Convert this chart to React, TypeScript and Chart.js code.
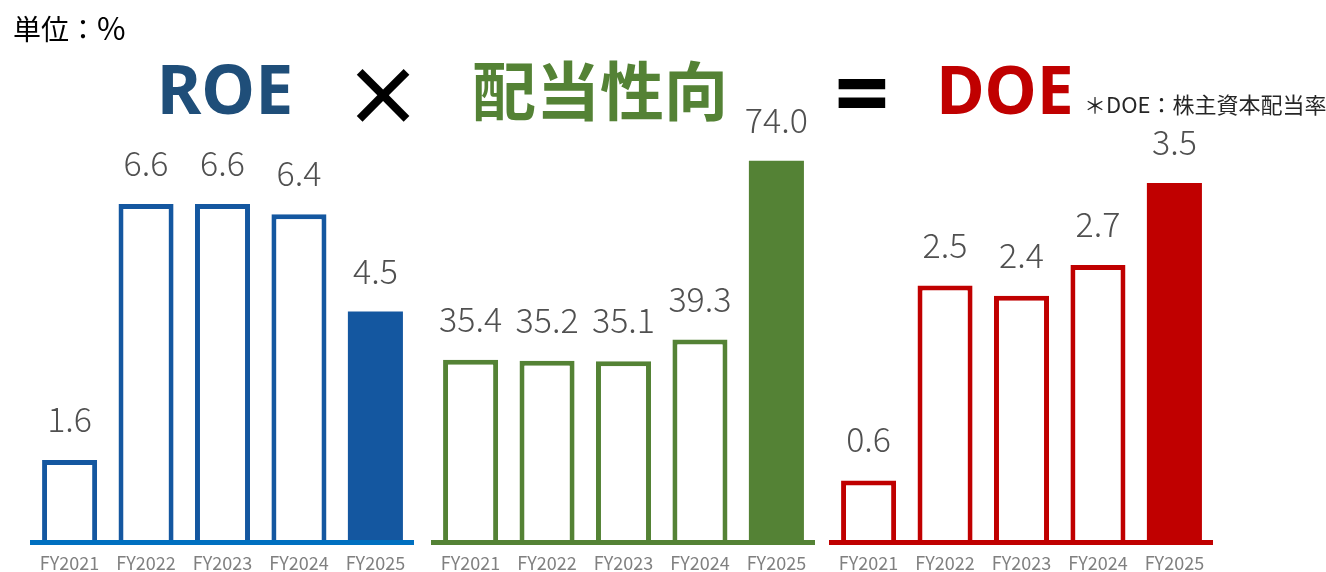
import { useEffect, useRef } from "react"
import Chart from "chart.js/auto"

const years = ["FY2021", "FY2022", "FY2023", "FY2024", "FY2025"]
const roeValues = [1.6, 6.6, 6.6, 6.4, 4.5]
const payoutValues = [35.4, 35.2, 35.1, 39.3, 74.0]
const doeValues = [0.6, 2.5, 2.4, 2.7, 3.5]

const FONT = "'Noto Sans CJK JP', 'Noto Sans', sans-serif"

interface PanelProps {
    values: number[]
    color: string
    axisColor: string
    yMax: number
    left: number
}

function BarPanel({ values, color, axisColor, yMax, left }: PanelProps) {
    const chartRef = useRef<HTMLCanvasElement>(null)

    useEffect(() => {
        if (!chartRef.current) return
        const ctx = chartRef.current.getContext("2d")
        if (!ctx) return

        const last = values.length - 1

        // value labels above each bar
        const valueLabels = {
            id: "valueLabels",
            afterDatasetsDraw(chart: Chart) {
                const c = chart.ctx
                const meta = chart.getDatasetMeta(0)
                c.save()
                c.font = `300 34px ${FONT}`
                c.fillStyle = "#505050"
                c.textAlign = "center"
                c.textBaseline = "alphabetic"
                meta.data.forEach((bar: any, i: number) => {
                    c.fillText(values[i].toFixed(1), bar.x, bar.y - 28)
                })
                c.restore()
            },
        }

        const chart = new Chart(ctx, {
            type: "bar",
            data: {
                labels: years,
                datasets: [
                    {
                        data: values,
                        // latest year is a solid bar, the rest are outlined
                        backgroundColor: values.map((_, i) => (i === last ? color : "#ffffff")),
                        borderColor: color,
                        borderWidth: values.map((_, i) => (i === last ? 0 : 5)),
                        borderSkipped: "bottom",
                        barPercentage: 0.72,
                        categoryPercentage: 1,
                    },
                ],
            },
            options: {
                animation: false,
                responsive: true,
                maintainAspectRatio: false,
                layout: { padding: { top: 100, left: 0, right: 0, bottom: 0 } },
                plugins: {
                    legend: { display: false },
                    tooltip: { enabled: false },
                },
                scales: {
                    x: {
                        grid: { display: false, drawTicks: false },
                        border: { color: axisColor, width: 5, z: 1 },
                        ticks: {
                            color: "#808080",
                            font: { family: FONT, size: 18 },
                            padding: 10,
                        },
                        afterFit: (scale: any) => {
                            scale.height = 30
                        },
                    },
                    y: { display: false, min: 0, max: yMax },
                },
            },
            plugins: [valueLabels],
        })

        return () => {
            chart.destroy()
        }
    }, [values, color, axisColor, yMax])

    return (
        <div style={{ position: "absolute", left, top: 0, width: 385, height: 572 }}>
            <canvas ref={chartRef} />
        </div>
    )
}

const centered = (x: number, y: number): React.CSSProperties => ({
    position: "absolute",
    left: x,
    top: y,
    transform: "translate(-50%, -50%)",
    lineHeight: 1,
    whiteSpace: "nowrap",
})

export default function App() {
    return (
        <div
            style={{
                position: "absolute",
                left: 0,
                top: 0,
                width: 1326,
                height: 572,
                background: "#ffffff",
                overflow: "hidden",
                fontFamily: FONT,
            }}
        >
            <BarPanel values={roeValues} color="#1457A0" axisColor="#0070C0" yMax={8.63} left={30} />
            <BarPanel values={payoutValues} color="#548235" axisColor="#548235" yMax={85.8} left={431} />
            <BarPanel values={doeValues} color="#C00000" axisColor="#C00000" yMax={4.31} left={829} />

            <div style={{ position: "absolute", left: 13, top: 11, fontSize: 28, lineHeight: 1, color: "#000" }}>
                単位：<span style={{ fontSize: 31 }}>%</span>
            </div>
            <div style={{ ...centered(225, 88), fontFamily: "'Noto Sans', sans-serif", fontWeight: 700, fontSize: 68, color: "#1F4E79" }}>
                ROE
            </div>
            <div style={{ ...centered(383, 90), fontWeight: 700, fontSize: 80, color: "#000" }}>×</div>
            <div style={{ ...centered(600, 87), fontWeight: 700, fontSize: 64, color: "#548235" }}>配当性向</div>
            <div style={{ ...centered(862, 91), fontFamily: "'Noto Sans', sans-serif", fontWeight: 700, fontSize: 96, color: "#000" }}>
                =
            </div>
            <div style={{ ...centered(1005, 88), fontFamily: "'Noto Sans', sans-serif", fontWeight: 700, fontSize: 66, color: "#C00000" }}>
                DOE
            </div>
            <div style={{ position: "absolute", left: 1084, top: 92, fontSize: 22, lineHeight: 1, color: "#262626", whiteSpace: "nowrap" }}>
                ＊DOE：株主資本配当率
            </div>
        </div>
    )
}
